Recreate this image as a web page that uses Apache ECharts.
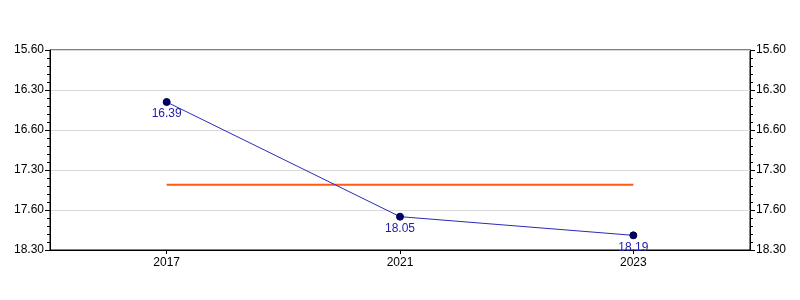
<!DOCTYPE html>
<html>
<head>
<meta charset="utf-8">
<script src="https://cdn.jsdelivr.net/npm/echarts@6/dist/echarts.min.js"></script>
<style>html,body{margin:0;padding:0;background:#fff}#c{width:800px;height:300px}</style>
</head>
<body>
<div id="c"></div>
<script>
// Categories (years)
const categories = ['2017', '2021', '2023'];
// Values as shown (minutes.seconds notation)
const timeValues = [16.39, 18.05, 18.19];
// Tick labels shown on both y axes, top to bottom
const yTickLabels = ['15.60', '16.30', '16.60', '17.30', '17.60', '18.30'];

// convert m.ss notation to decimal minutes
function toMinutes(v) {
  const m = Math.floor(v);
  const s = Math.round((v - m) * 100);
  return m + s / 60;
}
const seriesData = timeValues.map(toMinutes);
const avg = seriesData.reduce((a, b) => a + b, 0) / seriesData.length;
const avgData = categories.map(() => avg);

const yMin = 16, yMax = 18.5, yStep = 0.5;
function tickLabel(value) {
  const i = Math.round((value - yMin) / yStep);
  return yTickLabels[i] !== undefined ? yTickLabels[i] : '';
}

const font = 'Liberation Sans, Arial, sans-serif';
const yAxisCommon = {
  type: 'value',
  inverse: true,
  min: yMin,
  max: yMax,
  interval: yStep,
  axisLine: { show: true, lineStyle: { color: '#000', width: 1 } },
  axisTick: { show: true, length: 5, lineStyle: { color: '#000' } },
  minorTick: { show: true, splitNumber: 5, length: 3, lineStyle: { color: '#000' } },
  axisLabel: { formatter: tickLabel, color: '#000', fontSize: 12, fontFamily: font, margin: 6 },
};

const chart = echarts.init(document.getElementById('c'), null, { renderer: 'canvas' });
chart.setOption({
  animation: false,
  backgroundColor: '#fff',
  grid: { left: 50, right: 50, top: 50, bottom: 50, show: true, borderColor: '#000', borderWidth: 1, backgroundColor: 'transparent' },
  xAxis: {
    type: 'category',
    data: categories,
    boundaryGap: true,
    axisLine: { lineStyle: { color: '#000', width: 1 } },
    axisTick: { show: true, alignWithLabel: true, length: 4, lineStyle: { color: '#000' } },
    axisLabel: { color: '#000', fontSize: 12, fontFamily: font, margin: 7 },
    splitLine: { show: false }
  },
  yAxis: [
    Object.assign({}, yAxisCommon, {
      position: 'left',
      splitLine: { show: true, lineStyle: { color: '#d9d9d9', width: 1 } }
    }),
    Object.assign({}, yAxisCommon, {
      position: 'right',
      splitLine: { show: false }
    })
  ],
  series: [{
    type: 'line',
    name: 'average',
    data: avgData,
    yAxisIndex: 0,
    z: 1,
    showSymbol: false,
    symbol: 'none',
    silent: true,
    lineStyle: { color: '#ff5a14', width: 2 },
    emphasis: { disabled: true }
  }, {
    type: 'line',
    data: seriesData,
    yAxisIndex: 0,
    symbol: 'circle',
    symbolSize: 7,
    z: 3,
    itemStyle: { color: '#00006e', borderColor: '#000040', borderWidth: 1 },
    lineStyle: { color: '#2b2bb8', width: 1 },
    label: {
      show: true,
      position: 'bottom',
      distance: 2,
      color: '#1c1caa',
      fontSize: 12,
      fontFamily: font,
      formatter: p => timeValues[p.dataIndex].toFixed(2)
    }
  }]
});
</script>
</body>
</html>
